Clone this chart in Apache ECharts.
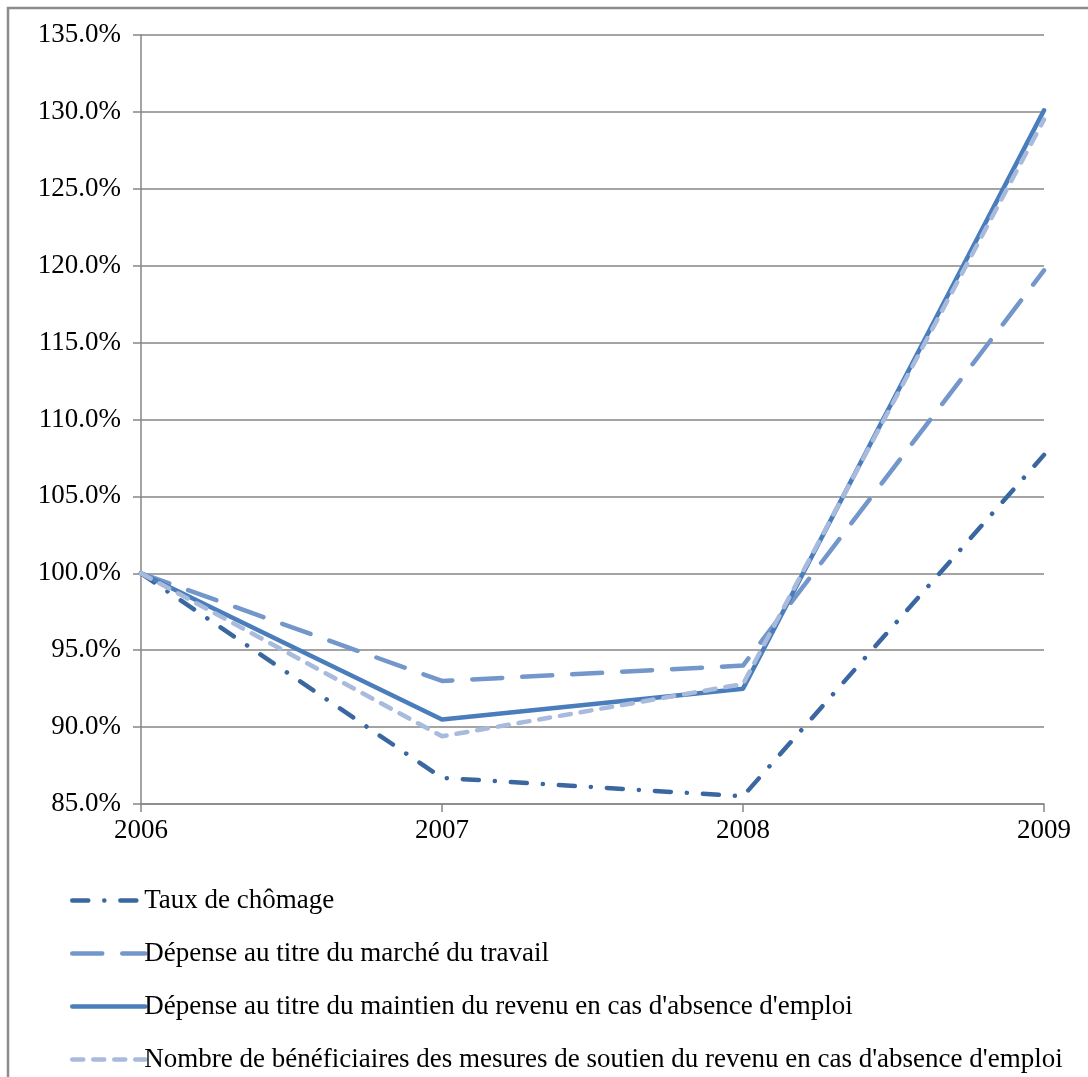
<!DOCTYPE html>
<html>
<head>
<meta charset="utf-8">
<script src="https://cdn.jsdelivr.net/npm/echarts@6/dist/echarts.min.js"></script>
<style>
  html, body { margin: 0; padding: 0; background: #fff; }
  #chart { width: 1088px; height: 1077px; }
</style>
</head>
<body>
<div id="chart"></div>
<script>
// Years on the category axis
const years = ['2006', '2007', '2008', '2009'];

// Index values, 2006 = 100 %
const tauxChomage = [100.0, 86.7, 85.5, 107.7];
const depenseMarche = [100.0, 93.0, 94.0, 119.7];
const depenseMaintien = [100.0, 90.5, 92.5, 130.1];
const nombreBeneficiaires = [100.0, 89.4, 92.8, 129.5];

// Series names shown in the legend
const seriesNames = [
  'Taux de chômage',
  'Dépense au titre du marché du travail',
  'Dépense au titre du maintien du revenu en cas d\'absence d\'emploi',
  'Nombre de bénéficiaires des mesures de soutien du revenu en cas d\'absence d\'emploi'
];

// Value axis range
const yMin = 85;
const yMax = 135;
const yStep = 5;

const serif = '"Liberation Serif", "Times New Roman", serif';
const LINE_W = 4.5;

const chart = echarts.init(document.getElementById('chart'), null, { renderer: 'canvas' });

function lineSeries(name, data, color, dash, cap) {
  return {
    name: name,
    type: 'line',
    data: data,
    symbol: 'none',
    silent: true,
    lineStyle: { color: color, width: LINE_W, type: dash, cap: cap, join: 'round' },
    itemStyle: { color: color }
  };
}

chart.setOption({
  animation: false,
  backgroundColor: '#ffffff',
  graphic: [
    {
      type: 'polyline',
      shape: { points: [[8, 1077], [8, 8], [1088, 8]] },
      style: { stroke: '#8c8c8c', lineWidth: 2.5, fill: null },
      silent: true
    }
  ],
  grid: { left: 141, right: 44, top: 35, bottom: 273, containLabel: false },
  xAxis: {
    type: 'category',
    data: years,
    boundaryGap: false,
    axisLine: { show: true, lineStyle: { color: '#868686', width: 1.5 } },
    axisTick: { show: true, alignWithLabel: true, length: 8, inside: false, lineStyle: { color: '#868686', width: 1.5 } },
    axisLabel: { color: '#000', fontFamily: serif, fontSize: 27, margin: 13 },
    splitLine: { show: false }
  },
  yAxis: {
    type: 'value',
    min: yMin,
    max: yMax,
    interval: yStep,
    axisLine: { show: true, lineStyle: { color: '#868686', width: 1.5 } },
    axisTick: { show: true, length: 8, lineStyle: { color: '#868686', width: 1.5 } },
    axisLabel: {
      color: '#000', fontFamily: serif, fontSize: 27, margin: 20,
      formatter: v => v.toFixed(1) + '%'
    },
    splitLine: { show: true, lineStyle: { color: '#868686', width: 1.5 } }
  },
  legend: {
    orient: 'vertical',
    left: 70,
    top: 887,
    height: 188,
    padding: 0,
    itemWidth: 73,
    itemHeight: 14,
    itemGap: 26,
    itemStyle: { opacity: 0 },
    lineStyle: { width: LINE_W },
    textStyle: { color: '#000', fontFamily: serif, fontSize: 27, lineHeight: 26, padding: [0, 0, 0, -6] },
    data: seriesNames
  },
  series: [
    lineSeries(seriesNames[0], tauxChomage, '#3b67a0', [16, 16, 0.1, 16], 'round'),
    lineSeries(seriesNames[1], depenseMarche, '#7396cb', [30, 20], 'round'),
    lineSeries(seriesNames[2], depenseMaintien, '#4a7dbb', 'solid', 'round'),
    lineSeries(seriesNames[3], nombreBeneficiaires, '#a8bbdc', [11, 10], 'round')
  ]
});
</script>
</body>
</html>
